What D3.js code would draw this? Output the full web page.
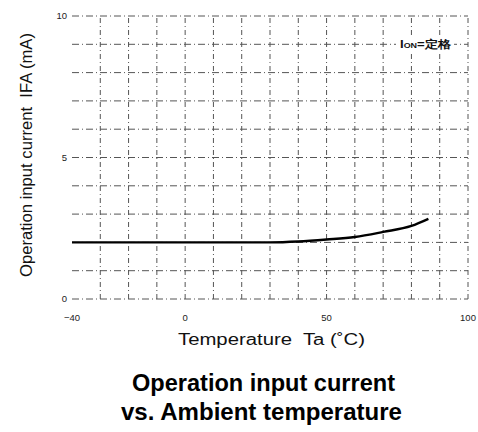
<!DOCTYPE html>
<html><head><meta charset="utf-8">
<script src="https://cdn.jsdelivr.net/npm/d3@7"></script>
<style>body{margin:0;background:#fff}svg{display:block}text{white-space:pre}</style>
</head><body><svg id="c" width="478" height="432"></svg>
<script>
const temps   = [-40,-30,-20,-10,0,10,20,30,40,50,60,70,80,86];
const current = [2.0,2.0,2.0,2.0,2.0,2.0,2.0,2.0,2.03,2.1,2.19,2.37,2.58,2.83];
const xTickLabels = [-40,0,50,100];
const yTickLabels = [0,5,10];
const xGrid = [-30,-20,-10,0,10,20,30,40,50,60,70,80,90,100];
const yGrid = [0,1,2,3,4,5,6,7,8,9,10];

const svg = d3.select("#c");
const x = d3.scaleLinear().domain([-40,100]).range([72,468]);
const y = d3.scaleLinear().domain([0,10]).range([299,16]);
const gridColor = "#555";

svg.append("g").selectAll("line").data(yGrid).join("line")
  .attr("x1",x(-40)).attr("x2",x(100)).attr("y1",d=>y(d)).attr("y2",d=>y(d))
  .attr("stroke",gridColor).attr("stroke-width",1).attr("stroke-dasharray","7,3,1,3");
svg.append("g").selectAll("line").data(xGrid).join("line")
  .attr("x1",d=>x(d)).attr("x2",d=>x(d)).attr("y1",y(0)).attr("y2",y(10))
  .attr("stroke",gridColor).attr("stroke-width",1).attr("stroke-dasharray","5,3,1,3");

// legend label
const lg = svg.append("g");
lg.append("rect").attr("x",396).attr("y",y(9)-7).attr("width",58).attr("height",14).attr("fill","#fff");
const lt = lg.append("text").attr("x",400).attr("y",y(9)+4).attr("font-family","Liberation Sans, Arial, sans-serif")
  .attr("font-size",11).attr("font-weight","bold").attr("fill","#111")
  .attr("textLength",51).attr("lengthAdjust","spacingAndGlyphs");
lt.append("tspan").text("I");
lt.append("tspan").attr("font-size",7.5).text("ON");
lt.append("tspan").text("=定格");

// curve
svg.append("path").datum(temps.map((t,i)=>[t,current[i]]))
  .attr("d", d3.line().x(d=>x(d[0])).y(d=>y(d[1])).curve(d3.curveMonotoneX))
  .attr("fill","none").attr("stroke","#000").attr("stroke-width",2.4);

const f = "Liberation Sans, Arial, sans-serif";
svg.append("g").selectAll("text").data(yTickLabels).join("text")
  .attr("x",67).attr("y",d=>y(d)+3).attr("text-anchor","end")
  .attr("font-family",f).attr("font-size",9.5).attr("fill","#222").text(d=>d);
svg.append("g").selectAll("text").data(xTickLabels).join("text")
  .attr("x",d=>x(d)).attr("y",321).attr("text-anchor","middle")
  .attr("font-family",f).attr("font-size",9.5).attr("fill","#222").text(d=>d<0?"\u2212"+(-d):d);

svg.append("text").attr("x",178).attr("y",345)
  .attr("font-family",f).attr("font-size",16).attr("fill","#111")
  .attr("textLength",187).attr("lengthAdjust","spacingAndGlyphs").text("Temperature  Ta (\u02DAC)");
svg.append("text").attr("transform","translate(32,277) rotate(-90)")
  .attr("font-family",f).attr("font-size",16).attr("fill","#111")
  .attr("textLength",244).attr("lengthAdjust","spacingAndGlyphs").text("Operation input current  IFA (mA)");

svg.append("text").attr("x",132).attr("y",391)
  .attr("font-family",f).attr("font-size",23).attr("font-weight","bold").attr("fill","#000")
  .attr("textLength",263).attr("lengthAdjust","spacingAndGlyphs").text("Operation input current");
svg.append("text").attr("x",121).attr("y",420)
  .attr("font-family",f).attr("font-size",23).attr("font-weight","bold").attr("fill","#000")
  .attr("textLength",281).attr("lengthAdjust","spacingAndGlyphs").text("vs. Ambient temperature");
</script></body></html>
